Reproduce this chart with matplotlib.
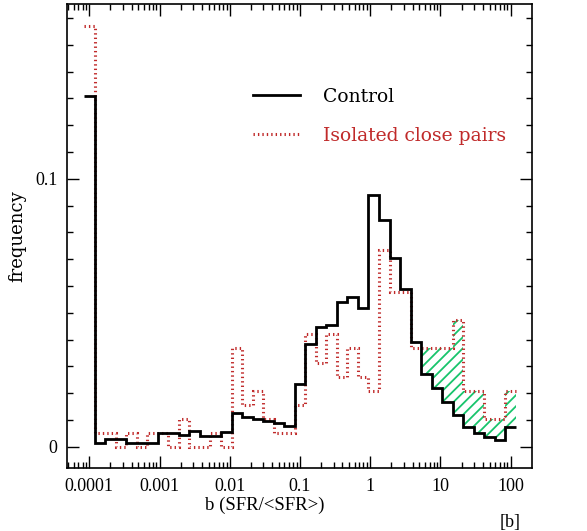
import numpy as np
import matplotlib
matplotlib.use("Agg")
import matplotlib.pyplot as plt
from matplotlib.ticker import MultipleLocator, LogLocator, NullFormatter

# bins: 0.15 dex wide, first bin centred on 1e-4 (zero-SFR galaxies)
BIN_LO = -4.075
BIN_W = 0.15
N_BINS = 41

# control sample, frequency per bin
control = [0.131, 0.0015, 0.0028, 0.0028, 0.0015, 0.0015, 0.0015, 0.0052, 0.0052, 0.0044,
           0.0058, 0.0041, 0.0041, 0.0054, 0.0124, 0.0112, 0.0103, 0.0097, 0.0087, 0.0078,
           0.0233, 0.0385, 0.0447, 0.0453, 0.0539, 0.0559, 0.0518, 0.0938, 0.0847, 0.0704,
           0.0590, 0.0389, 0.0273, 0.0218, 0.0168, 0.0118, 0.0075, 0.0050, 0.0037, 0.0025,
           0.0072]

# isolated close pairs, counts per bin (191 galaxies)
pair_counts = [30, 1, 1, 0, 1, 0, 1, 1, 0, 2,
               0, 0, 1, 0, 7, 3, 4, 2, 1, 1,
               3, 8, 6, 8, 5, 7, 5, 4, 14, 11,
               11, 7, 7, 7, 7, 9, 4, 4, 2, 2,
               4]
n_pairs = 191

hatch_from = 32  # first bin of the shaded excess

xticks = [1e-4, 1e-3, 1e-2, 1e-1, 1, 10, 100]
xtick_labels = ["0.0001", "0.001", "0.01", "0.1", "1", "10", "100"]

RED = "#c02a2a"
GREEN = "#18c46c"

plt.rcParams["hatch.linewidth"] = 1.3
plt.rcParams["hatch.color"] = GREEN

pairs = np.array(pair_counts) / n_pairs
control = np.array(control)
edges = 10 ** (BIN_LO + BIN_W * np.arange(N_BINS + 1))

fig = plt.figure(figsize=(5.87, 5.31), dpi=100)
ax = fig.add_axes([0.1147, 0.1181, 0.7911, 0.8744])

# shaded excess of pairs over control at high b
ax.fill_between(edges[hatch_from:],
                np.append(control[hatch_from:], control[-1]),
                np.append(pairs[hatch_from:], pairs[-1]),
                step="post", facecolor="none", edgecolor=GREEN,
                hatch="///", linewidth=0, zorder=1)

ax.stairs(control, edges, baseline=None, color="black", linewidth=2.0,
          label="Control", zorder=3)
ax.stairs(pairs, edges, baseline=None, color=RED, linewidth=2.2,
          linestyle=(0, (0.45, 1.0)), label="Isolated close pairs", zorder=2)

ax.set_xscale("log")
ax.set_xlim(10 ** -4.313, 10 ** 2.299)
ax.set_ylim(-0.00805, 0.1652)

ax.set_xticks(xticks)
ax.set_xticklabels(xtick_labels)
ax.xaxis.set_minor_locator(LogLocator(base=10, subs=np.arange(2, 10)))
ax.xaxis.set_minor_formatter(NullFormatter())
ax.yaxis.set_major_locator(MultipleLocator(0.1))
ax.yaxis.set_minor_locator(MultipleLocator(0.01))
ax.yaxis.set_major_formatter(plt.FuncFormatter(lambda v, p: "0" if abs(v) < 1e-9 else f"{v:g}"))

ax.tick_params(which="both", direction="in", top=True, right=True, width=1.0)
ax.tick_params(which="major", length=8.5, pad=7)
ax.tick_params(which="minor", length=4.2)
for lab in ax.get_xticklabels() + ax.get_yticklabels():
    lab.set_family("Liberation Serif")
    lab.set_fontsize(13)
for sp in ax.spines.values():
    sp.set_linewidth(1.2)

ax.set_xlabel("b (SFR/<SFR>)", family="Liberation Serif", fontsize=13.5)
ax.xaxis.set_label_coords(0.4257, -0.079)
ax.xaxis.label.set_va("center")
ax.set_ylabel("frequency", family="DejaVu Serif", fontsize=13)
ax.yaxis.set_label_coords(-0.108, 0.5)
ax.yaxis.label.set_va("center")

leg = ax.legend(loc="upper left", bbox_to_anchor=(0.4005, 0.819), frameon=False,
                borderpad=0, borderaxespad=0, handlelength=2.5, handletextpad=1.24,
                labelspacing=1.12, labelcolor="linecolor",
                prop={"family": "DejaVu Serif", "size": 13.5})

fig.text(510 / 587, 1 - 522 / 531, "[b]", family="Liberation Serif", fontsize=13,
         ha="center", va="center")

fig.savefig("out.png", dpi=100)
